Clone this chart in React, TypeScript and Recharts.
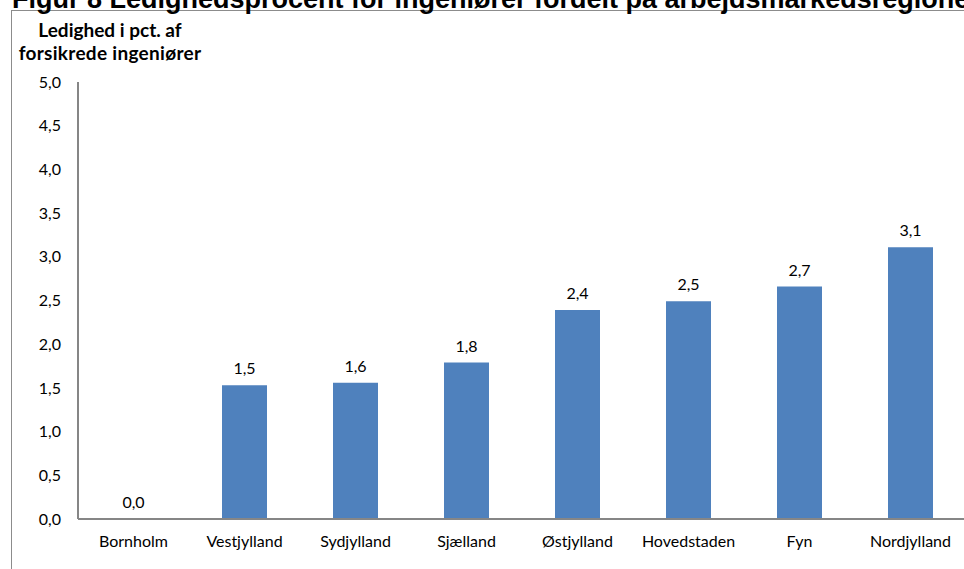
import React from 'react';
import { ComposedChart, Bar, Line, XAxis, YAxis, LabelList } from 'recharts';

const categories = ['Bornholm', 'Vestjylland', 'Sydjylland', 'Sjælland', 'Østjylland', 'Hovedstaden', 'Fyn', 'Nordjylland'];
const values = [0.0, 1.53, 1.56, 1.79, 2.39, 2.49, 2.66, 3.11];
const yTicks = [0, 0.5, 1, 1.5, 2, 2.5, 3, 3.5, 4, 4.5, 5];
const titleText = 'Figur 8 Ledighedsprocent for ingeniører fordelt på arbejdsmarkedsregioner';
const yTitleLines = ['Ledighed i pct. af', 'forsikrede ingeniører'];

const data = categories.map((c, i) => ({ name: c, value: values[i] }));
const fmt = (v: number) => v.toFixed(1).replace('.', ',');
const font = 'Lato, "Open Sans", sans-serif';

export default function App() {
  return (
    <div style={{ position: 'absolute', left: 0, top: 0, width: 964, height: 569, overflow: 'hidden', background: '#fff' }}>
      <div style={{ position: 'absolute', left: 11, top: 10, width: 1000, height: 600, borderLeft: '1.5px solid #8c8c8c', borderTop: '1.5px solid #8c8c8c' }} />
      <div style={{ position: 'absolute', left: 0, top: 0 }}>
        <ComposedChart width={970} height={569} data={data} margin={{ top: 82, right: 4, bottom: 20, left: 0 }} barCategoryGap={0}>
          <YAxis
            width={78}
            domain={[0, 5]}
            ticks={yTicks}
            tickFormatter={fmt}
            axisLine={{ stroke: '#868686', strokeWidth: 2 }}
            tickLine={false}
            tickSize={0}
            tickMargin={17}
            tick={{ fill: '#000', fontSize: 16, fontFamily: font }}
            interval={0}
          />
          <XAxis
            dataKey="name"
            height={30}
            axisLine={{ stroke: '#868686', strokeWidth: 2 }}
            tickLine={false}
            tickSize={0}
            tickMargin={17}
            tick={{ fill: '#000', fontSize: 16, fontFamily: font }}
            interval={0}
          />
          <Bar dataKey="value" fill="#4F81BD" barSize={45} isAnimationActive={false} />
          <Line dataKey="value" stroke="none" dot={false} activeDot={false} isAnimationActive={false} legendType="none">
            <LabelList dataKey="value" position="top" offset={11} formatter={(v: number) => fmt(v)} style={{ fill: '#000', fontSize: 16, fontFamily: font }} />
          </Line>
        </ComposedChart>
      </div>
      <svg width={964} height={80} style={{ position: 'absolute', left: 0, top: 0 }}>
        <text x={12} y={8} fontFamily='Arial, "Liberation Sans", sans-serif' fontWeight="bold" fontSize={27} fill="#000">{titleText}</text>
        <text x={110} y={37} textAnchor="middle" fontFamily={font} fontWeight="bold" fontSize={19} fill="#000">{yTitleLines[0]}</text>
        <text x={110} y={60} textAnchor="middle" fontFamily={font} fontWeight="bold" fontSize={19} letterSpacing={0.3} fill="#000">{yTitleLines[1]}</text>
      </svg>
    </div>
  );
}
